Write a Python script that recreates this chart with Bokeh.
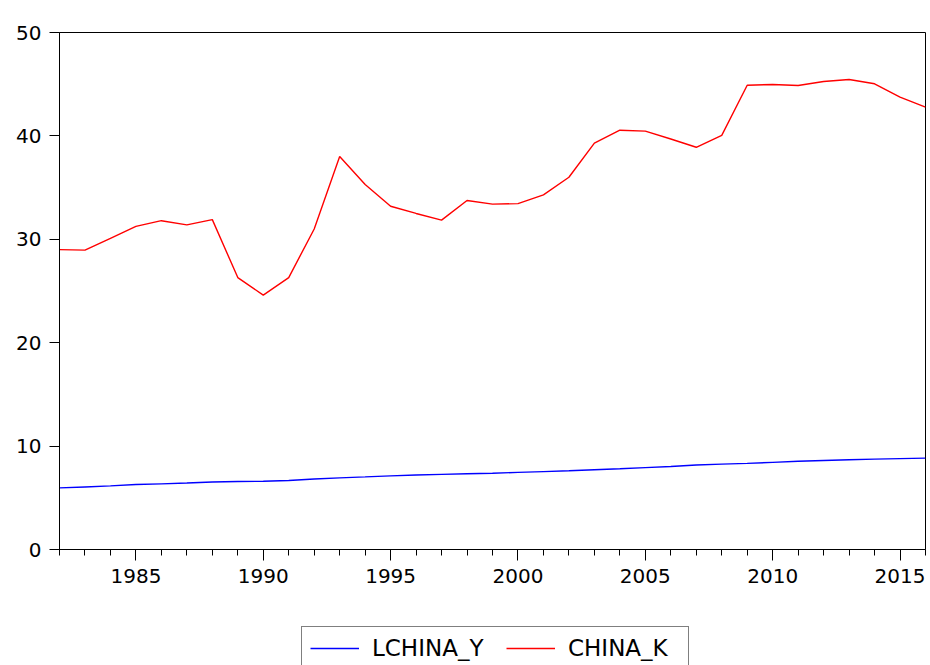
from bokeh.plotting import figure
from bokeh.models import Legend, LegendItem, Range1d, FixedTicker
from bokeh.layouts import column
from bokeh.embed import file_html
from bokeh.resources import INLINE

years = list(range(1982, 2017))
lchina_y = [5.96, 6.05, 6.15, 6.28, 6.35, 6.43, 6.53, 6.57, 6.60, 6.68,
            6.82, 6.93, 7.02, 7.12, 7.20, 7.27, 7.32, 7.38, 7.46, 7.53,
            7.61, 7.71, 7.81, 7.92, 8.03, 8.17, 8.26, 8.33, 8.43, 8.53,
            8.61, 8.68, 8.74, 8.79, 8.84]
china_k = [29.0, 28.95, 30.1, 31.25, 31.8, 31.4, 31.9, 26.3, 24.6, 26.3,
           31.0, 38.0, 35.3, 33.2, 32.5, 31.85, 33.75, 33.4, 33.45, 34.3,
           36.0, 39.3, 40.55, 40.46, 39.7, 38.9, 40.05, 44.9, 44.97, 44.87,
           45.26, 45.45, 45.04, 43.75, 42.78]
series_names = ["LCHINA_Y", "CHINA_K"]
series_colors = ["#0000FF", "#FF0000"]
x_major = [1985, 1990, 1995, 2000, 2005, 2010, 2015]
y_major = [0, 10, 20, 30, 40, 50]

FONT = "DejaVu Sans"

p = figure(width=928, height=610, output_backend="svg", toolbar_location=None,
           x_range=Range1d(1982, 2016), y_range=Range1d(0, 50),
           min_border_left=59, min_border_right=3, min_border_top=32,
           min_border_bottom=61)
p.grid.visible = False
p.outline_line_color = "black"
p.outline_line_width = 1
p.background_fill_color = "white"
p.border_fill_color = "white"

p.line(years, lchina_y, line_color=series_colors[0], line_width=1.4)
p.line(years, china_k, line_color=series_colors[1], line_width=1.4)

xa = p.xaxis[0]
xa.ticker = FixedTicker(ticks=x_major, minor_ticks=years)
xa.major_tick_out = 11
xa.major_tick_in = 0
xa.minor_tick_out = 6
xa.minor_tick_in = 0
xa.major_label_standoff = 8
xa.major_label_text_font = FONT
xa.major_label_text_font_size = "20px"
xa.major_label_text_color = "black"
xa.axis_line_color = "black"
xa.major_tick_line_color = "black"
xa.minor_tick_line_color = "black"

ya = p.yaxis[0]
ya.ticker = FixedTicker(ticks=y_major, minor_ticks=[])
ya.major_tick_out = 10
ya.major_tick_in = 0
ya.minor_tick_line_color = None
ya.major_label_standoff = 8
ya.major_label_text_font = FONT
ya.major_label_text_font_size = "20px"
ya.major_label_text_color = "black"
ya.axis_line_color = "black"
ya.major_tick_line_color = "black"

# legend strip below the chart (its frame is aligned with the chart frame)
q = figure(width=928, height=55, output_backend="svg", toolbar_location=None,
           x_axis_type=None, y_axis_type=None,
           x_range=Range1d(0, 1), y_range=Range1d(0, 1),
           min_border_left=0, min_border_right=0, min_border_top=0,
           min_border_bottom=0)
q.grid.visible = False
q.outline_line_color = None
q.background_fill_color = "white"
q.border_fill_color = "white"
# proxy renderers (kept outside the visible range) that only feed the legend
d1 = q.line([years[0]], [lchina_y[0]], line_color=series_colors[0], line_width=1.4)
d2 = q.line([years[0]], [china_k[0]], line_color=series_colors[1], line_width=1.4)

legend = Legend(items=[LegendItem(label=series_names[0], renderers=[d1]),
                       LegendItem(label=series_names[1], renderers=[d2])],
                orientation="horizontal", location=(242, -5),
                glyph_width=49, glyph_height=20, label_standoff=13,
                label_width=112, spacing=22, padding=8, margin=0,
                label_text_font=FONT, label_text_font_size="23px",
                label_text_color="black",
                border_line_color="black", border_line_width=1,
                background_fill_color="white", background_fill_alpha=1.0)
q.add_layout(legend, "center")

layout = column(p, q, spacing=0)
open("out.html", "w").write(file_html(layout, INLINE))
